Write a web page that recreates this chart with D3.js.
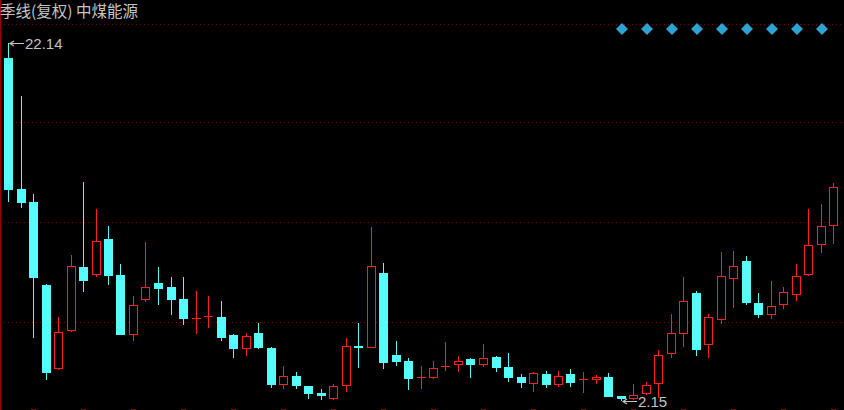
<!DOCTYPE html>
<html>
<head>
<meta charset="utf-8">
<script src="https://cdn.jsdelivr.net/npm/d3@7"></script>
<style>
  html, body { margin: 0; padding: 0; background: #000; overflow: hidden; }
  svg { display: block; }
</style>
</head>
<body>
<div id="chart"></div>
<script>
(function(){
  "use strict";

  // quarterly candles, oldest first
  const open  = [21.30,13.97,13.24,8.59,3.94,6.07,9.60,9.21,11.17,9.15,5.85,7.81,8.70,8.48,7.81,6.72,6.82,6.80,5.79,5.06,
                 5.90,5.06,3.05,3.49,2.93,2.54,2.26,2.99,5.17,5.12,9.26,4.67,4.33,3.41,3.44,4.02,4.17,4.45,4.17,4.56,
                 4.00,3.44,3.10,3.61,3.05,3.61,3.30,3.33,3.44,2.37,2.26,2.54,3.10,4.78,5.90,8.14,5.29,6.69,8.98,9.93,
                 7.58,6.97,7.53,8.09,9.21,10.89,11.95];
  const high  = [22.14,19.17,13.69,8.62,6.80,10.27,14.36,12.85,11.89,9.77,7.97,11.00,9.60,9.04,9.04,8.25,7.97,7.69,5.82,5.90,
                 6.46,5.12,4.05,3.72,2.95,2.77,3.05,5.62,6.46,11.84,9.82,5.45,4.50,4.05,4.33,5.40,4.61,4.50,5.29,4.61,
                 4.78,3.61,3.72,3.77,3.77,3.89,3.72,3.55,3.66,2.37,3.05,3.16,4.95,6.97,9.04,8.25,6.97,10.44,10.49,10.21,
                 8.14,8.81,8.48,9.77,12.85,13.13,14.30];
  const low   = [13.29,12.96,5.68,3.33,3.86,6.02,8.25,9.09,8.65,5.82,5.51,7.69,7.53,6.97,6.41,5.90,6.24,5.51,4.56,4.67,
                 5.06,2.88,2.82,2.82,2.26,2.20,2.21,2.65,4.00,5.10,3.94,4.11,2.77,2.82,3.38,3.83,3.77,3.44,4.05,3.77,
                 3.21,2.88,2.65,2.88,2.93,2.93,2.60,3.10,2.35,2.15,2.23,2.49,2.32,4.56,5.17,4.67,4.56,6.46,7.36,7.53,
                 6.80,6.74,7.30,7.75,9.15,10.44,10.94];
  const close = [13.97,13.24,9.04,3.72,5.96,9.65,8.87,11.05,9.15,5.85,7.47,8.48,8.42,7.81,6.74,6.76,6.85,5.68,5.06,5.73,
                 5.12,3.05,3.49,2.99,2.54,2.45,2.93,5.17,5.14,9.65,4.28,4.33,3.38,3.44,3.94,4.05,4.33,4.17,4.50,4.00,
                 3.44,3.16,3.66,3.05,3.49,3.16,3.33,3.44,2.37,2.26,2.43,2.99,4.67,5.90,7.69,5.01,6.80,9.09,9.65,7.64,
                 6.97,7.41,8.20,9.09,10.83,11.89,14.08];

  const title = "季线(复权) 中煤能源";
  const markerCount = 9;   // the little diamonds top right

  const W = 844, H = 410;
  const RED = "#ff2020", CYAN = "#54fcfc", GRID = "#8c0000", TXT = "#c4c4c4";

  const candles = open.map((o, i) => ({ i, o, h: high[i], l: low[i], c: close[i] }));

  // scales
  const x = d3.scaleLinear().domain([0, candles.length - 1]).range([8, 833]);
  const y = d3.scaleLinear().domain([2.15, 22.14]).range([400, 43]);

  const svg = d3.select("#chart").append("svg")
    .attr("width", W).attr("height", H)
    .style("background", "#000");

  // dotted grid lines (panel split in equal parts)
  const gridY = [24, 122, 222, 322];
  svg.append("g").selectAll("line").data(gridY).enter().append("line")
    .attr("x1", 0).attr("x2", W)
    .attr("y1", d => d + 0.5).attr("y2", d => d + 0.5)
    .attr("stroke", GRID).attr("stroke-width", 1)
    .attr("stroke-dasharray", "1,3");

  // top edge of the panel below, only a few dashes show
  svg.append("line")
    .attr("x1", 31).attr("x2", W).attr("y1", 409.5).attr("y2", 409.5)
    .attr("stroke", GRID).attr("stroke-dasharray", "5,45");

  // left border
  svg.append("line")
    .attr("x1", 0.5).attr("x2", 0.5).attr("y1", 0).attr("y2", H)
    .attr("stroke", "#a00000").attr("stroke-width", 1.5);

  // candles
  const g = svg.append("g").attr("shape-rendering", "crispEdges");
  candles.forEach(d => {
    const cx = Math.round(x(d.i));
    const up = d.c >= d.o;
    const col = up ? RED : CYAN;

    g.append("line")
      .attr("x1", cx + 0.5).attr("x2", cx + 0.5)
      .attr("y1", Math.round(y(d.h))).attr("y2", Math.round(y(d.l)) + 1)
      .attr("stroke", col).attr("stroke-width", 1);

    const yTop = Math.round(y(Math.max(d.o, d.c)));
    const yBot = Math.round(y(Math.min(d.o, d.c)));
    const hgt = yBot - yTop;

    if (up && hgt >= 2) {
      // hollow red body
      g.append("rect")
        .attr("x", cx - 4 + 0.5).attr("y", yTop + 0.5)
        .attr("width", 8).attr("height", hgt)
        .attr("fill", "#000").attr("stroke", RED).attr("stroke-width", 1);
    } else {
      g.append("rect")
        .attr("x", cx - 4).attr("y", yTop)
        .attr("width", 9).attr("height", Math.max(hgt, 1) + (up ? 0 : 1))
        .attr("fill", col);
    }
  });

  // title
  svg.append("text")
    .attr("x", 0).attr("y", 17)
    .attr("font-family", "'Noto Sans CJK SC', sans-serif")
    .attr("font-size", 15.5)
    .attr("fill", TXT)
    .text(title);

  // diamonds
  svg.append("g").selectAll("path").data(d3.range(markerCount)).enter().append("path")
    .attr("d", d3.symbol(d3.symbolSquare, 72))
    .attr("transform", d => `translate(${622 + d * 25},29) rotate(45)`)
    .attr("fill", "#2ea2d0");

  // max / min markers
  function marker(idx, val, yy) {
    const ax = Math.round(x(idx)) + 2;
    const py = Math.round(yy) + 0.5;
    svg.append("path")
      .attr("d", `M${ax + 14},${py}H${ax}M${ax + 4},${py - 2.5}L${ax},${py}L${ax + 4},${py + 2.5}`)
      .attr("stroke", TXT).attr("fill", "none").attr("stroke-width", 1.2);
    svg.append("text")
      .attr("x", ax + 15).attr("y", py + 5.5)
      .attr("font-family", "'Liberation Sans', Arial, sans-serif")
      .attr("font-size", 15)
      .attr("fill", TXT)
      .text(val.toFixed(2));
  }

  const hiIdx = d3.maxIndex(high);
  const loIdx = d3.minIndex(low);
  marker(hiIdx, high[hiIdx], y(high[hiIdx]));
  marker(loIdx, low[loIdx], y(low[loIdx]) + 1);

})();
</script>
</body>
</html>
